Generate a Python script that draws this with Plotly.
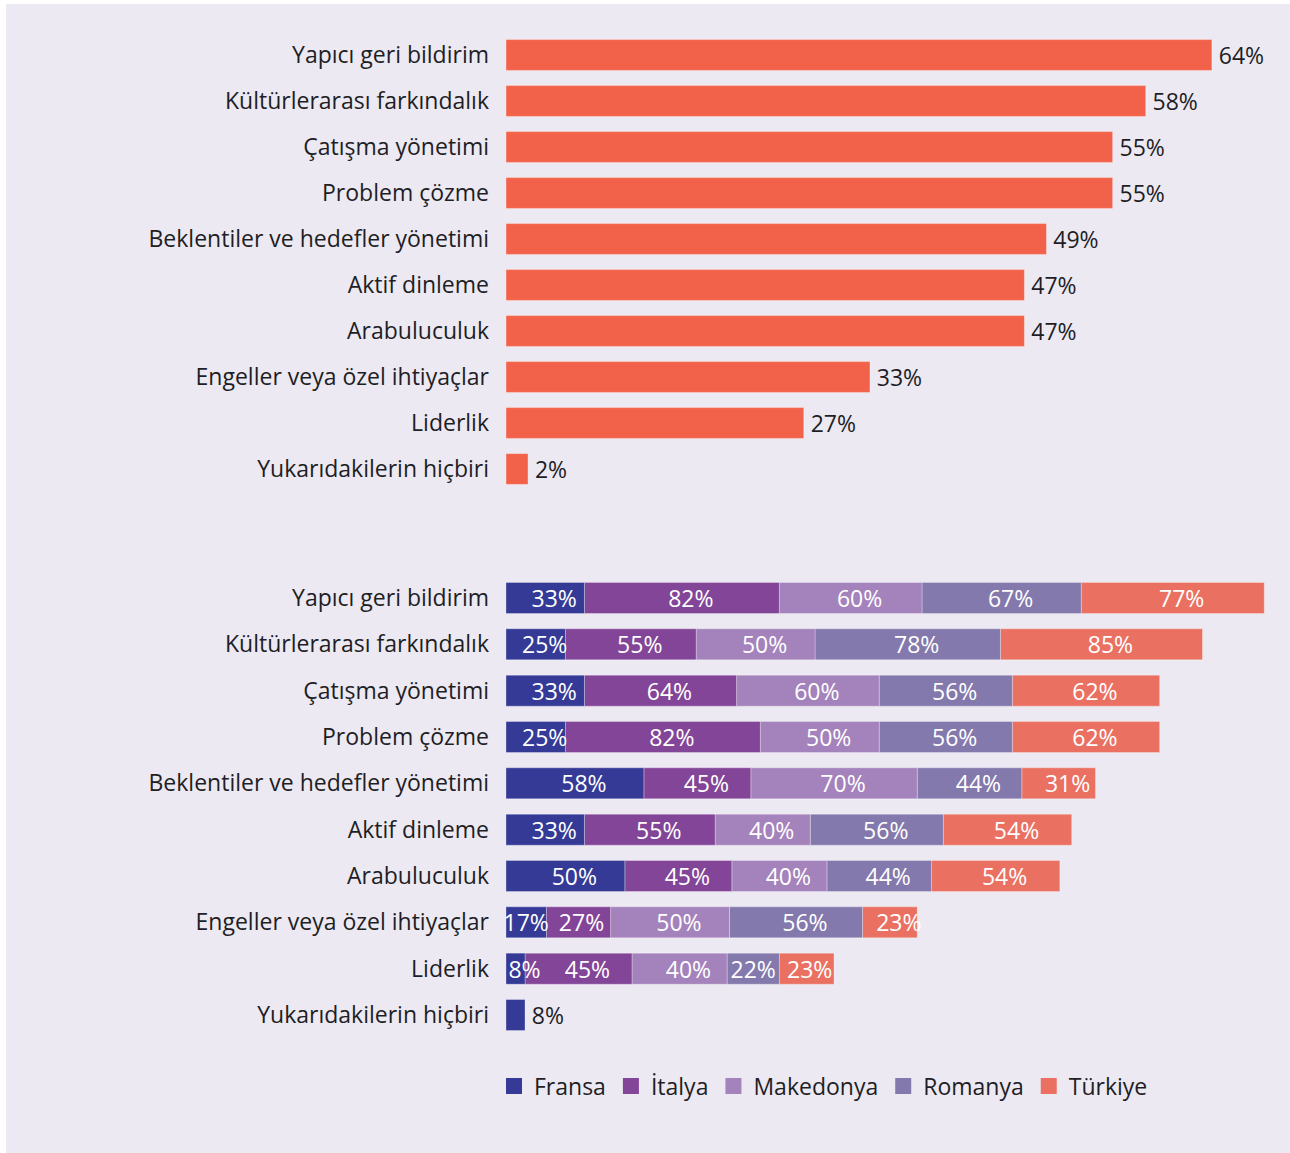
import plotly.graph_objects as go
from plotly.subplots import make_subplots

categories = [
    "Yapıcı geri bildirim",
    "Kültürlerarası farkındalık",
    "Çatışma yönetimi",
    "Problem çözme",
    "Beklentiler ve hedefler yönetimi",
    "Aktif dinleme",
    "Arabuluculuk",
    "Engeller veya özel ihtiyaçlar",
    "Liderlik",
    "Yukarıdakilerin hiçbiri",
]

total_values = [64, 58, 55, 55, 49, 47, 47, 33, 27, 2]

countries = ["Fransa", "İtalya", "Makedonya", "Romanya", "Türkiye"]
fransa = [33, 25, 33, 25, 58, 33, 50, 17, 8, 8]
italya = [82, 55, 64, 82, 45, 55, 45, 27, 45, None]
makedonya = [60, 50, 60, 50, 70, 40, 40, 50, 40, None]
romanya = [67, 78, 56, 56, 44, 56, 44, 56, 22, None]
turkiye = [77, 85, 62, 62, 31, 54, 54, 23, 23, None]
country_values = [fransa, italya, makedonya, romanya, turkiye]

country_colors = ["#343A96", "#834598", "#A482BB", "#8479AC", "#EA7162"]
top_color = "#F2624A"
bg_color = "#ECE9F3"
text_color = "#1E1E24"
FONT = "Open Sans"
FS = 23

W, H = 1290, 1153
ML, MR, MT, MB = 506, 20, 0, 103
PW = W - ML - MR
PH = H - MT - MB


def py(p):
    return 1 - (p - MT) / PH


fig = make_subplots(rows=2, cols=1, shared_xaxes=False, vertical_spacing=0.05)

fig.add_trace(
    go.Bar(
        y=categories,
        x=total_values,
        orientation="h",
        marker=dict(color=top_color, line=dict(color="rgba(255,255,255,0.35)", width=1)),
        text=[f"\u2009{v}%" for v in total_values],
        textposition="outside",
        textangle=0,
        outsidetextfont=dict(color=text_color, size=FS, family=FONT),
        cliponaxis=False,
        showlegend=False,
        hoverinfo="skip",
    ),
    row=1,
    col=1,
)

# labels sit slightly right of the segment centre (leading no-break spaces);
# crowded narrow segments get less offset so neighbouring labels don't collide
DEFAULT_PAD = 3
pad_override = {
    ("Fransa", 7): 0,
    ("İtalya", 7): 1,
    ("Romanya", 8): 0,
    ("Türkiye", 8): 1,
}

# cumulative starts of each stacked segment (from the data)
bases = []
running = [0] * len(categories)
for vals in country_values:
    bases.append(list(running))
    running = [r + (v or 0) for r, v in zip(running, vals)]

# draw last segment first so that overflowing labels of earlier segments stay on top
for idx in reversed(range(len(countries))):
    name, vals, col, base = countries[idx], country_values[idx], country_colors[idx], bases[idx]
    positions = []
    for i, v in enumerate(vals):
        if name == "Fransa" and i == len(vals) - 1:
            positions.append("outside")
        else:
            positions.append("inside")
    texts = []
    for i, v in enumerate(vals):
        if v is None:
            texts.append("")
        elif positions[i] == "outside":
            texts.append(f"\u2009{v}%")
        else:
            n = pad_override.get((name, i), DEFAULT_PAD)
            texts.append("\u00a0" * n + f"{v}%")
    fig.add_trace(
        go.Bar(
            y=categories,
            x=vals,
            base=base,
            name=name,
            orientation="h",
            marker=dict(color=col, line=dict(color="rgba(255,255,255,0.3)", width=1)),
            text=texts,
            textposition=positions,
            textangle=0,
            insidetextanchor="middle",
            insidetextfont=dict(color="white", size=FS, family=FONT),
            outsidetextfont=dict(color=text_color, size=FS, family=FONT),
            constraintext="none",
            cliponaxis=False,
            hoverinfo="skip",
            showlegend=False,
            legendgroup=name,
        ),
        row=2,
        col=1,
    )

# legend entries (square swatches)
for name, col in zip(countries, country_colors):
    fig.add_trace(
        go.Scatter(
            x=[None],
            y=[None],
            mode="markers",
            name=name,
            legendgroup=name,
            marker=dict(symbol="square", size=16, color=col),
            hoverinfo="skip",
        ),
        row=2,
        col=1,
    )

top_dom = [py(492), py(32)]
bot_dom = [py(1038.2), py(574.8)]

ycommon = dict(
    type="category",
    categoryorder="array",
    categoryarray=categories,
    range=[9.5, -0.5],
    showgrid=False,
    zeroline=False,
    showline=False,
    ticks="",
    ticklabelstandoff=16,
    tickfont=dict(size=FS, family=FONT, color=text_color),
)
fig.update_layout(
    yaxis=dict(domain=top_dom, **ycommon),
    yaxis2=dict(domain=bot_dom, **ycommon),
    xaxis=dict(range=[0, PW / 11.03], visible=False, domain=[0, 1]),
    xaxis2=dict(range=[0, PW / 2.377], visible=False, domain=[0, 1]),
)

fig.update_layout(
    width=W,
    height=H,
    margin=dict(l=ML, r=MR, t=MT, b=MB, pad=0, autoexpand=False),
    paper_bgcolor="white",
    plot_bgcolor="rgba(0,0,0,0)",
    barmode="overlay",
    bargap=0.33,
    font=dict(family=FONT, size=FS, color=text_color),
    uniformtext=dict(minsize=FS, mode="show"),
    showlegend=True,
    legend=dict(
        orientation="h",
        x=(494 - ML) / PW,
        xanchor="left",
        y=py(1086),
        yanchor="middle",
        font=dict(size=FS, family=FONT, color=text_color),
        bgcolor="rgba(0,0,0,0)",
        traceorder="normal",
        itemsizing="trace",
        tracegroupgap=0,
    ),
    shapes=[
        dict(
            type="rect",
            xref="paper",
            yref="paper",
            x0=(6 - ML) / PW,
            x1=(W - ML) / PW,
            y0=py(1153),
            y1=py(4),
            fillcolor=bg_color,
            line=dict(width=0),
            layer="below",
        )
    ],
)

fig.write_html("out.html")
